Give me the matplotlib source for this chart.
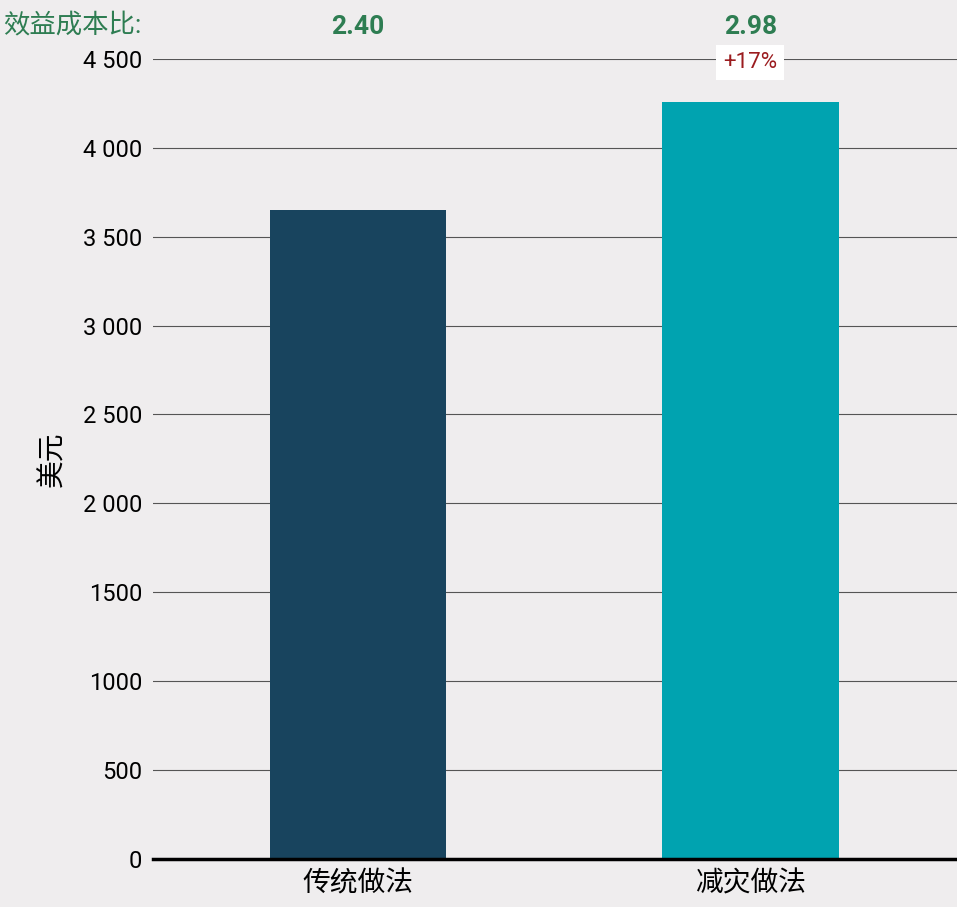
import matplotlib
matplotlib.use("Agg")
from matplotlib import pyplot as plt

plt.rcParams['font.family'] = ['Roboto', 'Noto Sans CJK SC', 'DejaVu Sans']

# data
categories = ["传统做法", "减灾做法"]
values = [3650, 4260]
ratios = ["2.40", "2.98"]
change_label = "+17%"
yticks = [0, 500, 1000, 1500, 2000, 2500, 3000, 3500, 4000, 4500]
ytick_labels = ["0", "500", "1000", "1500", "2 000", "2 500", "3 000", "3 500", "4 000", "4 500"]

BG = "#efedee"
GREEN = "#2e7d52"

fig = plt.figure(figsize=(9.57, 9.07), dpi=100, facecolor=BG)
ax = fig.add_axes([0.16, 0.053, 0.84, 0.882], facecolor=BG)

ax.bar(range(len(values)), values, width=0.45, color=["#18445e", "#00a3b0"], zorder=3)
ax.set_xlim(-0.523, 1.527)
ax.set_ylim(0, 4500)
ax.set_yticks(yticks)
ax.set_yticklabels(ytick_labels, fontsize=17)
ax.set_xticks(range(len(categories)))
ax.set_xticklabels(categories, fontsize=20)
ax.tick_params(axis='both', length=0, pad=8)
ax.grid(axis='y', color="#555555", linewidth=0.8, zorder=0)
for s in ["left", "right", "top"]:
    ax.spines[s].set_visible(False)
ax.spines["bottom"].set_linewidth(2.5)
ax.spines["bottom"].set_zorder(4)
ax.set_ylabel("美元", fontsize=20, labelpad=12)

# ratio labels above plot
for i, r in enumerate(ratios):
    ax.text(i, 4610, r, ha='center', va='bottom', fontsize=19, fontweight='bold',
            color=GREEN, clip_on=False)
fig.text(0.003, 0.985, "效益成本比:", ha='left', va='top', fontsize=19, color=GREEN)

ax.text(1, values[1] + 160, change_label, ha='center', va='bottom', fontsize=16,
        color="#9b1c1f", bbox=dict(facecolor='white', edgecolor='none', pad=5), zorder=5)

fig.savefig("out.png", dpi=100, facecolor=BG)
